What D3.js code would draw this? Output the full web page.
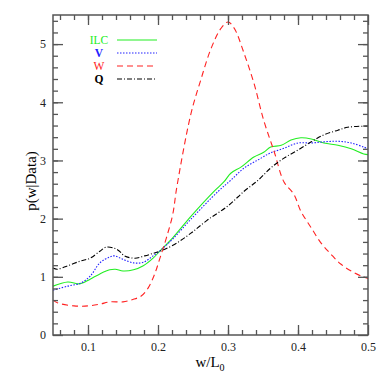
<!DOCTYPE html>
<html>
<head>
<meta charset="utf-8">
<script src="https://d3js.org/d3.v7.min.js"></script>
<style>
  html, body { margin: 0; background: #fff; }
  text { font-family: "Liberation Serif", serif; }
</style>
</head>
<body>
<svg id="svg"></svg>
<script>
// curve samples, x = w/L0
const ilcX = [0.05,0.071,0.089,0.103,0.117,0.131,0.139,0.15,0.165,0.179,0.193,0.204,0.221,0.247,0.28,0.294,0.304,0.319,0.337,0.351,0.361,0.376,0.39,0.404,0.419,0.437,0.457,0.476,0.494,0.5];
const ilcY = [0.84,0.91,0.88,0.96,1.05,1.12,1.13,1.10,1.12,1.19,1.32,1.46,1.67,2.04,2.47,2.63,2.78,2.89,3.06,3.14,3.23,3.26,3.35,3.39,3.37,3.30,3.26,3.20,3.11,3.10];

const vX = [0.05,0.071,0.089,0.103,0.117,0.131,0.138,0.15,0.165,0.179,0.193,0.204,0.221,0.247,0.286,0.304,0.323,0.343,0.361,0.38,0.4,0.419,0.437,0.457,0.476,0.494,0.5];
const vY = [0.77,0.84,0.89,1.01,1.24,1.34,1.36,1.30,1.24,1.25,1.36,1.46,1.65,1.99,2.47,2.66,2.87,3.01,3.13,3.21,3.30,3.30,3.32,3.33,3.30,3.23,3.20];

const wX = [0.05,0.057,0.08,0.1,0.117,0.131,0.15,0.164,0.176,0.186,0.195,0.203,0.212,0.221,0.227,0.247,0.261,0.276,0.29,0.3,0.309,0.323,0.337,0.351,0.366,0.38,0.394,0.404,0.419,0.433,0.447,0.461,0.476,0.493,0.5];
const wY = [0.60,0.55,0.50,0.50,0.53,0.57,0.57,0.61,0.67,0.81,1.04,1.33,1.67,2.07,2.55,3.80,4.38,4.93,5.27,5.38,5.27,4.84,4.33,3.69,3.15,2.63,2.42,2.13,1.84,1.58,1.39,1.22,1.10,1.00,0.97];

const qX = [0.05,0.056,0.071,0.089,0.103,0.117,0.126,0.138,0.145,0.152,0.167,0.181,0.195,0.207,0.224,0.247,0.27,0.3,0.323,0.343,0.361,0.38,0.4,0.419,0.437,0.457,0.471,0.494,0.5];
const qY = [1.15,1.13,1.19,1.27,1.32,1.44,1.51,1.49,1.44,1.36,1.32,1.36,1.41,1.46,1.56,1.75,1.97,2.22,2.47,2.66,2.87,3.04,3.18,3.32,3.44,3.52,3.57,3.59,3.59];

const series = [
  {name: "ILC", xs: ilcX, ys: ilcY, color: "#22ee22", dash: null},
  {name: "V", xs: vX, ys: vY, color: "#2222ff", dash: "1.5,1.5"},
  {name: "W", xs: wX, ys: wY, color: "#ff2222", dash: "6,4"},
  {name: "Q", xs: qX, ys: qY, color: "#000000", dash: "5,2,1,2"}
];

const xTicks = [0.1, 0.2, 0.3, 0.4, 0.5];
const yTicks = [0, 1, 2, 3, 4, 5];

const W = 382, H = 382;
const m = {left: 53, right: 14, top: 15, bottom: 47};

const svg = d3.select("#svg").attr("width", W).attr("height", H);

const x = d3.scaleLinear().domain([0.05, 0.5]).range([m.left, W - m.right]);
const y = d3.scaleLinear().domain([0, 5.5]).range([H - m.bottom, m.top]);

const line = d3.line()
  .curve(d3.curveCatmullRom)
  .x(d => x(d[0]))
  .y(d => y(d[1]));

const plot = svg.append("g");
series.forEach(s => {
  plot.append("path")
    .attr("fill", "none")
    .attr("stroke", s.color)
    .attr("stroke-width", 1.1)
    .attr("stroke-dasharray", s.dash)
    .attr("d", line(s.xs.map((v, i) => [v, s.ys[i]])));
});

// frame + ticks on all sides
const frameColor = "#555";
svg.append("rect")
  .attr("x", m.left).attr("y", m.top)
  .attr("width", W - m.left - m.right).attr("height", H - m.top - m.bottom)
  .attr("fill", "none").attr("stroke", frameColor).attr("stroke-width", 1.5);

const xMinor = d3.range(0.06, 0.5, 0.02).map(v => +v.toFixed(2));
const yMinor = d3.range(0.2, 5.5, 0.2).map(v => +v.toFixed(1));

const axBottom = svg.append("g").attr("transform", `translate(0,${H - m.bottom})`);
axBottom.call(d3.axisBottom(x).tickValues(xMinor).tickSize(-5).tickFormat(""));
axBottom.append("g").call(d3.axisBottom(x).tickValues(xTicks).tickSize(-10).tickPadding(7).tickFormat(d3.format(".1f")));

const axTop = svg.append("g").attr("transform", `translate(0,${m.top})`);
axTop.call(d3.axisTop(x).tickValues(xMinor).tickSize(-5).tickFormat(""));
axTop.append("g").call(d3.axisTop(x).tickValues(xTicks).tickSize(-10).tickFormat(""));

const axLeft = svg.append("g").attr("transform", `translate(${m.left},0)`);
axLeft.call(d3.axisLeft(y).tickValues(yMinor).tickSize(-5).tickFormat(""));
axLeft.append("g").call(d3.axisLeft(y).tickValues(yTicks).tickSize(-10).tickPadding(7).tickFormat(d3.format("d")));

const axRight = svg.append("g").attr("transform", `translate(${W - m.right},0)`);
axRight.call(d3.axisRight(y).tickValues(yMinor).tickSize(-5).tickFormat(""));
axRight.append("g").call(d3.axisRight(y).tickValues(yTicks).tickSize(-10).tickFormat(""));

svg.selectAll(".domain").remove();
svg.selectAll(".tick line").attr("stroke", frameColor).attr("stroke-width", 1.3);
svg.selectAll(".tick text").attr("font-family", "Liberation Serif, serif").attr("font-size", 12).attr("fill", "#222");

// axis titles
svg.append("text")
  .attr("transform", `translate(36,${(m.top + H - m.bottom) / 2 + 6}) rotate(-90)`)
  .attr("text-anchor", "middle")
  .attr("font-size", 15)
  .text("p(w|Data)");

const xt = svg.append("text")
  .attr("x", 210)
  .attr("y", 367)
  .attr("text-anchor", "middle")
  .attr("font-size", 15);
xt.append("tspan").text("w/L");
xt.append("tspan").attr("font-size", 10).attr("dy", 4).text("0");

// legend
const legY = [40, 53, 66, 79];
series.forEach((s, i) => {
  svg.append("text")
    .attr("x", 99).attr("y", legY[i] + 3.5)
    .attr("text-anchor", "middle")
    .attr("font-size", 11.5)
    .attr("fill", s.color)
    .attr("font-weight", s.name === "V" || s.name === "Q" ? "bold" : "normal")
    .text(s.name);
  svg.append("line")
    .attr("x1", 117).attr("x2", 157)
    .attr("y1", legY[i]).attr("y2", legY[i])
    .attr("stroke", s.color)
    .attr("stroke-width", 1.1)
    .attr("stroke-dasharray", s.dash);
});
</script>
</body>
</html>
